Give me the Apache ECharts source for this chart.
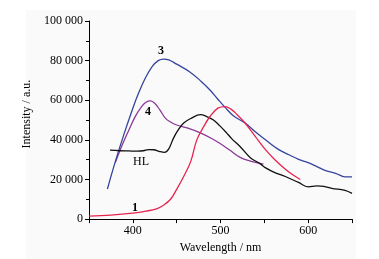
<!DOCTYPE html>
<html>
<head>
<meta charset="utf-8">
<script src="https://cdn.jsdelivr.net/npm/echarts@6/dist/echarts.min.js"></script>
<style>
html,body{margin:0;padding:0;background:#fff;}
#main{width:379px;height:259px;}
</style>
</head>
<body>
<div id="main"></div>
<script>
// spectra: [wavelength nm, intensity]
var curve1 = [[350,1500],[375,2000],[400,3000],[415,4000],[427,5200],[435,7000],[443,10000],[450,15000],[458,21500],[466,29000],[473,40000],[481,46800],[488,51800],[497,56000],[505,56800],[512,55500],[519,52700],[528,48500],[540,41500],[551,35200],[562,30000],[574,25200],[582,22500],[591,20000]];
var curve3 = [[371,15200],[380,29000],[390,43000],[400,56000],[406,63000],[414,71000],[422,77000],[429,80000],[435,80800],[441,80400],[450,78200],[465,74300],[478,69500],[488,65200],[497,60500],[505,56500],[515,52000],[528,48500],[540,44000],[552,39800],[566,35200],[578,32500],[589,30200],[600,28500],[610,26500],[620,24500],[632,23000],[642,21300],[650,21300]];
var curve4 = [[380,28500],[388,37500],[395,44500],[403,52000],[410,56800],[415,59000],[420,59700],[425,58500],[431,55000],[437,51000],[443,49000],[450,47500],[462,46000],[477,43500],[492,40200],[500,38000],[510,35000],[523,31000],[534,29300],[549,27700]];
var curveHL = [[374,34800],[385,34500],[395,34400],[405,34300],[412,34500],[418,35100],[424,35000],[430,34200],[436,33700],[441,35500],[446,40500],[451,44500],[458,48500],[467,51000],[477,52700],[484,51800],[492,50000],[499,47200],[506,44000],[513,40500],[522,36800],[534,31000],[545,28000],[551,26000],[562,23500],[574,21500],[589,18500],[600,16300],[610,16800],[618,16500],[627,15500],[642,14500],[650,13000]];
var xTickLabels = [400, 500, 600];

var chart = echarts.init(document.getElementById('main'));
var serif = '"Liberation Serif","DejaVu Serif",serif';

function line(data, color) {
  return {
    type: 'line', data: data, smooth: 0.4, showSymbol: false,
    lineStyle: {color: color, width: 1.3}
  };
}

chart.setOption({
  animation: false,
  graphic: [
    {type: 'rect', z: -10, shape: {x: 26, y: 10, width: 330, height: 249}, style: {fill: '#fafafa'}},
    {type: 'text', left: 158, top: 45, style: {text: '3', font: 'bold 12px ' + serif, fill: '#000'}},
    {type: 'text', left: 145, top: 106, style: {text: '4', font: 'bold 12px ' + serif, fill: '#000'}},
    {type: 'text', left: 133, top: 156, style: {text: 'HL', font: '12px ' + serif, fill: '#000'}},
    {type: 'text', left: 132, top: 202, style: {text: '1', font: 'bold 12px ' + serif, fill: '#000'}}
  ],
  grid: {left: 89, right: 27, top: 21, bottom: 37},
  xAxis: {
    type: 'value', min: 350, max: 650, interval: 50,
    name: 'Wavelength / nm', nameLocation: 'middle', nameGap: 20,
    nameTextStyle: {fontFamily: serif, fontSize: 12, color: '#000'},
    axisLine: {lineStyle: {color: '#000', width: 1}},
    axisTick: {length: 4, lineStyle: {color: '#000'}},
    axisLabel: {
      fontFamily: serif, fontSize: 12, color: '#000', margin: 6,
      formatter: function (v) { return xTickLabels.indexOf(v) >= 0 ? String(v) : ''; }
    },
    splitLine: {show: false}
  },
  yAxis: {
    type: 'value', min: 0, max: 100000, interval: 20000,
    name: 'Intensity / a.u.', nameLocation: 'middle', nameGap: 46,
    nameTextStyle: {fontFamily: serif, fontSize: 12, color: '#000', padding: [0, 0, 0, 12]},
    axisLine: {show: true, lineStyle: {color: '#000', width: 1}},
    axisTick: {show: true, length: 4, lineStyle: {color: '#000'}},
    minorTick: {show: true, splitNumber: 2, length: 3, lineStyle: {color: '#000'}},
    axisLabel: {
      fontFamily: serif, fontSize: 12, color: '#000', margin: 6,
      formatter: function (v) { return String(v).replace(/\B(?=(\d{3})+(?!\d))/g, ' '); }
    },
    splitLine: {show: false}
  },
  series: [
    line(curve4, '#8b3a98'),
    line(curve3, '#34449c'),
    line(curveHL, '#111111'),
    line(curve1, '#e8244e')
  ]
});
</script>
</body>
</html>
